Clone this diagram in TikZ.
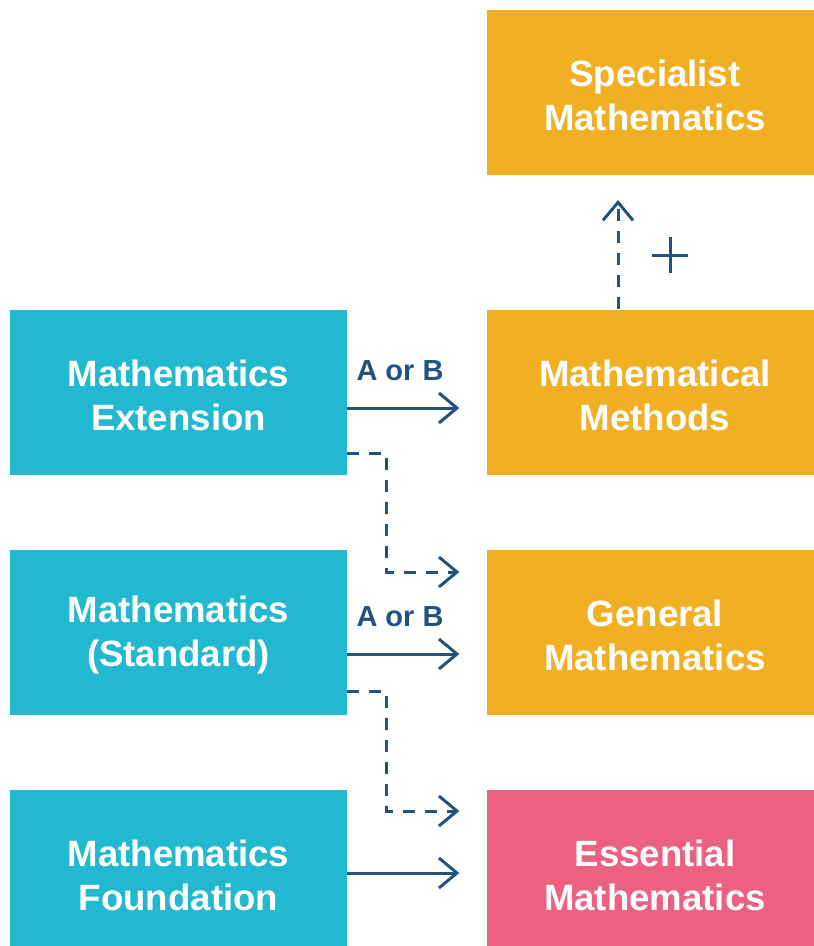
\documentclass[tikz,border=0pt]{standalone}
\usepackage{fontspec}
\setmainfont{Liberation Sans}
\usetikzlibrary{arrows.meta}
\definecolor{cyanbox}{RGB}{34,184,208}
\definecolor{orangebox}{RGB}{241,175,36}
\definecolor{pinkbox}{RGB}{236,97,127}
\definecolor{arrowblue}{RGB}{34,82,128}
\tikzset{
  box/.style={minimum width=337pt, minimum height=165pt, inner sep=0pt},
  boxtext/.style={inner sep=0pt, text=white, align=center,
    font=\fontsize{36.6}{44}\selectfont\bfseries},
  leftbox/.style={box, fill=cyanbox},
  rightbox/.style={box, fill=orangebox},
  pinkboxstyle/.style={box, fill=pinkbox},
  arr/.style={draw=arrowblue, line width=3pt, -{Straight Barb[length=18pt, width=30pt, line width=3pt]}},
  darr/.style={arr, dash pattern=on 12pt off 10pt},
  lbl/.style={text=arrowblue, font=\fontsize{29}{32}\selectfont\bfseries, inner sep=0pt}
}
\begin{document}
\begin{tikzpicture}[x=1pt,y=-1pt]
\useasboundingbox (0,0) rectangle (814,946);
\clip (0,0) rectangle (814,946);
\fill[white] (0,0) rectangle (814,946);
\node[rightbox] (spec) at (655,92.5) {};
\node[rightbox] (meth) at (655,392) {};
\node[rightbox] (gen) at (655,632) {};
\node[pinkboxstyle] (ess) at (655,872) {};
\node[leftbox] (ext) at (178.5,392) {};
\node[leftbox] (std) at (178.5,632) {};
\node[leftbox] (found) at (178.5,872) {};
\node[boxtext] (spec-t) at ([yshift=-3pt]spec.center) {Specialist\\Mathematics};
\node[boxtext] (meth-t) at ([yshift=-3pt]meth.center) {Mathematical\\Methods};
\node[boxtext] (gen-t) at ([yshift=-3pt]gen.center) {General\\Mathematics};
\node[boxtext] (ess-t) at ([yshift=-3pt]ess.center) {Essential\\Mathematics};
\node[boxtext] (ext-t) at ([yshift=-3pt]ext.center) {Mathematics\\Extension};
\node[boxtext] (std-t) at ([yshift=-3pt]std.center) {Mathematics\\(Standard)};
\node[boxtext] (found-t) at ([yshift=-3pt]found.center) {Mathematics\\Foundation};
% solid arrows
\draw[arr] ([yshift=-16pt]ext.east) -- ([yshift=-16pt,xshift=-27pt]meth.west);
\draw[arr] ([yshift=-22pt]std.east) -- ([yshift=-22pt,xshift=-27pt]gen.west);
\draw[arr] ([yshift=-1pt]found.east) -- ([yshift=-1pt,xshift=-27pt]ess.west);
% labels
\node[lbl] (l1) at (400,371) {A or B};
\node[lbl] (l2) at (400,617) {A or B};
% dashed arrows
\draw[darr] ([yshift=-61pt]ext.east) -- ++(39,0) |- ([yshift=60pt,xshift=-27pt]gen.west);
\draw[darr] ([yshift=-59pt]std.east) -- ++(39,0) |- ([yshift=61pt,xshift=-27pt]ess.west);
\coordinate (uptip) at (618,200);
\draw[darr] (meth.north -| uptip) -- (uptip);
% plus
\coordinate (plus) at (670,255);
\draw[arrowblue, line width=3pt] ([xshift=-18pt]plus) -- ([xshift=18pt]plus);
\draw[arrowblue, line width=3pt] ([yshift=-18pt]plus) -- ([yshift=18pt]plus);
\end{tikzpicture}
\end{document}
